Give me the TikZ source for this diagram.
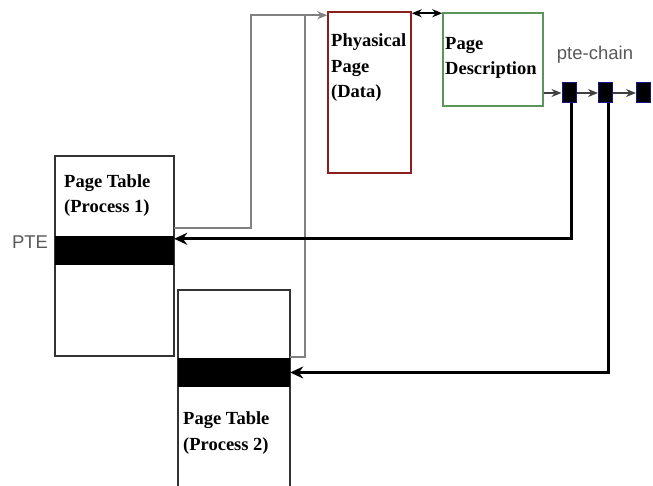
\documentclass[tikz,border=0pt]{standalone}
\usepackage{fontspec}
\setmainfont{Liberation Serif}
\setsansfont{Liberation Sans}
\usetikzlibrary{arrows.meta,positioning}
\tikzset{>={Stealth[length=10pt,width=8pt]}}
\definecolor{pagered}{RGB}{140,30,30}
\definecolor{descgreen}{RGB}{90,150,90}
\definecolor{chainblue}{RGB}{20,20,140}

\begin{document}
\begin{tikzpicture}[x=1pt,y=-1pt,
    box/.style={draw=black!80,line width=1.5pt,inner sep=0pt},
    band/.style={fill=black,inner sep=0pt,minimum height=29pt},
    chain/.style={fill=black,draw=chainblue,line width=1pt,inner sep=0pt,minimum width=14pt,minimum height=20pt},
    txt/.style={font=\bfseries\fontsize{18.5}{25.5}\selectfont,align=left,anchor=base west,inner sep=0pt},
    lbl/.style={font=\sffamily\fontsize{18.5}{22}\selectfont,text=black!65},
    feed/.style={draw=black!50,line width=2pt},
    link/.style={draw=black,line width=3pt,-{Stealth[length=13pt,width=12pt]}}]
    \useasboundingbox (0,0) rectangle (653,486);
    % physical page and its description
    \node[box,draw=pagered,minimum width=83pt,minimum height=161pt] (page) at (369.5,92.5) {};
    \node[box,draw=descgreen,minimum width=100pt,minimum height=93pt] (desc) at (493,59.5) {};
    \node[txt] (pagetxt) at (331,98) {Phyasical\\Page\\(Data)};
    \node[txt] (desctxt) at (445,75) {Page\\Description};
    \draw[<->,line width=1.5pt] ([yshift=-2pt]page.north east) -- ([yshift=-1pt]desc.north west);

    % page tables
    \node[box,minimum width=119pt,minimum height=200pt] (pt1) at (114.5,256) {};
    \node[band,minimum width=119pt] (pte1) at (114.5,250.5) {};
    \node[txt] (pt1txt) at (64,213) {Page Table\\(Process 1)};
    \node[box,minimum width=112pt,minimum height=205pt] (pt2) at (234,392.5) {};
    \node[band,minimum width=112pt] (pte2) at (234,372.5) {};
    \node[txt] (pt2txt) at (183,450) {Page Table\\(Process 2)};
    \node[lbl] (ptelbl) at (30,242) {PTE};

    % pte-chain
    \node[chain] (c1) at (569,93) {};
    \node[chain] (c2) at (605.5,93) {};
    \node[chain] (c3) at (643.5,93) {};
    \node[lbl] (chainlbl) at (595,55) {pte-chain};
    \draw[->,line width=1.5pt,black!75] (desc.east |- c1.west) -- (c1);
    \draw[->,line width=1.5pt,black!75] (c1) -- (c2);
    \draw[->,line width=1.5pt,black!75] (c2) -- (c3);

    % mappings
    \coordinate (in) at ([yshift=-4pt]page.north west);
    \draw[feed,->] ([yshift=8pt]pte1.north east) -- ++(77,0) |- (in);
    \draw[feed] ([yshift=1pt]pte2.north east) -| (305,0 |- in);
    \draw[link] ([xshift=2pt]c1.south) |- ([yshift=-3pt]pte1.north east);
    \draw[link] ([xshift=2.5pt]c2.south) |- (pte2.east);
\end{tikzpicture}
\end{document}
